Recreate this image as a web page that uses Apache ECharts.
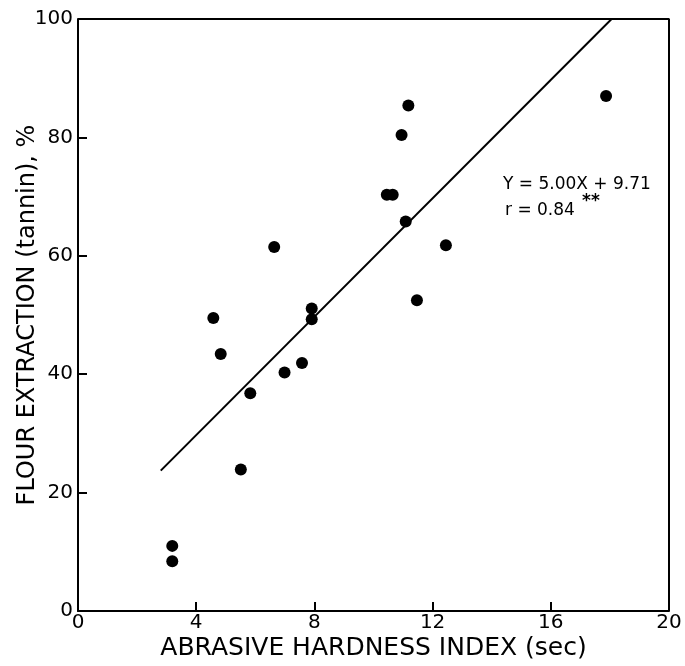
<!DOCTYPE html>
<html>
<head>
<meta charset="utf-8">
<script src="https://cdn.jsdelivr.net/npm/echarts@6/dist/echarts.min.js"></script>
<style>
  html, body { margin: 0; padding: 0; background: #fff; }
  #main { width: 685px; height: 666px; }
</style>
</head>
<body>
<div id="main"></div>
<script>
// abrasive hardness index (sec) vs flour extraction (tannin) %
var hardness = [3.19, 3.19, 4.58, 4.83, 5.51, 5.83, 6.64, 6.99, 7.58, 7.91, 7.91,
  10.45, 10.65, 10.95, 11.09, 11.18, 11.47, 12.45, 17.87];
var extraction = [11.0, 8.4, 49.5, 43.4, 23.9, 36.8, 61.5, 40.3, 41.9, 51.1, 49.3,
  70.3, 70.3, 80.4, 65.8, 85.4, 52.5, 61.8, 87.0];
var xTicks = [0, 4, 8, 12, 16, 20];
var yTicks = [0, 20, 40, 60, 80, 100];
// regression Y = 5.00X + 9.71, drawn from x=2.8 to where it reaches 100
var slope = 5.00, intercept = 9.71;
var lineX = [2.8, (100 - intercept) / slope];

var points = hardness.map(function (h, i) { return [h, extraction[i]]; });
var fitLine = lineX.map(function (x) { return [x, slope * x + intercept]; });

var font = '"DejaVu Sans", sans-serif';
var chart = echarts.init(document.getElementById('main'));
var option = {
  backgroundColor: '#fff',
  animation: false,
  grid: { left: 78, right: 16, top: 19, bottom: 55, show: false,
    containLabel: false, outerBoundsMode: 'none' },
  xAxis: {
    type: 'value', min: 0, max: 20, interval: 4,
    name: 'ABRASIVE HARDNESS INDEX (sec)',
    nameLocation: 'middle', nameGap: 25, nameMoveOverlap: false,
    nameTextStyle: { fontFamily: font, fontSize: 25, color: '#000', verticalAlign: 'top' },
    axisLine: { show: true, onZero: false, lineStyle: { color: '#000', width: 2 } },
    axisTick: { show: true, inside: true, length: 9, lineStyle: { color: '#000', width: 2 } },
    axisLabel: { fontFamily: font, fontSize: 20, color: '#000', margin: 2,
      formatter: function (v) { return xTicks.indexOf(v) >= 0 ? String(v) : ''; } },
    splitLine: { show: false }
  },
  yAxis: {
    type: 'value', min: 0, max: 100, interval: 20,
    name: 'FLOUR EXTRACTION (tannin), %',
    nameLocation: 'middle', nameGap: 38, nameRotate: 90, nameMoveOverlap: false,
    nameTextStyle: { fontFamily: font, fontSize: 24, color: '#000' },
    axisLine: { show: true, onZero: false, lineStyle: { color: '#000', width: 2 } },
    axisTick: { show: true, inside: true, length: 9, lineStyle: { color: '#000', width: 2 } },
    axisLabel: { fontFamily: font, fontSize: 20, color: '#000', margin: 5,
      formatter: function (v) { return yTicks.indexOf(v) >= 0 ? String(v) : ''; } },
    splitLine: { show: false }
  },
  series: [
    {
      type: 'line', data: fitLine, showSymbol: false, symbol: 'none',
      lineStyle: { color: '#000', width: 2 }, silent: true, z: 2
    },
    {
      type: 'scatter', data: points, symbol: 'circle', symbolSize: 12,
      itemStyle: { color: '#000', opacity: 1 }, z: 3
    },
    // top and right frame lines
    {
      type: 'line', data: [[0, 100], [20, 100], [20, 0]], showSymbol: false, symbol: 'none',
      lineStyle: { color: '#000', width: 2 }, silent: true, z: 1
    }
  ],
  graphic: [
    { type: 'text', left: 503, top: 176,
      style: { text: 'Y = 5.00X + 9.71', fontFamily: font, fontSize: 17, fill: '#000' } },
    { type: 'text', left: 505, top: 202,
      style: { text: 'r = 0.84', fontFamily: font, fontSize: 17, fill: '#000' } },
    { type: 'text', left: 582, top: 193,
      style: { text: '**', fontFamily: font, fontSize: 17, fontWeight: 'bold', fill: '#000' } }
  ]
};
chart.setOption(option);
</script>
</body>
</html>
